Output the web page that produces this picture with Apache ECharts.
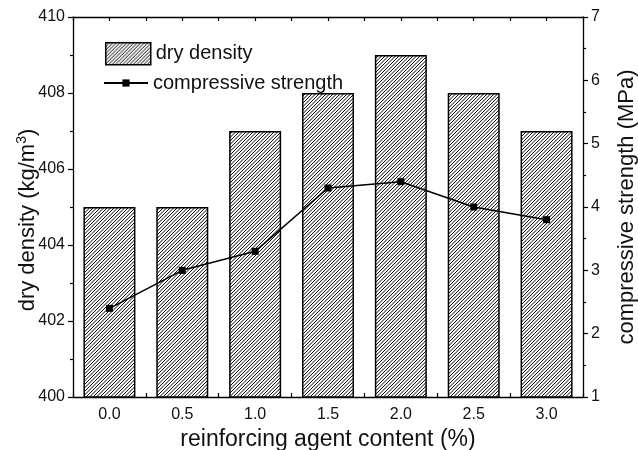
<!DOCTYPE html>
<html><head><meta charset="utf-8">
<script src="https://cdn.jsdelivr.net/npm/echarts@6/dist/echarts.min.js"></script>
<style>html,body{margin:0;padding:0;background:#fff}#c{width:638px;height:450px}</style>
</head><body><div id="c"></div>
<script>
const categories = ['0.0','0.5','1.0','1.5','2.0','2.5','3.0'];
const dryDensity = [405,405,407,408,409,408,407];
const compressiveStrength = [2.4,3.0,3.3,4.3,4.4,4.0,3.8];
const leftTicks = {min:400,max:410,interval:2};
const rightTicks = {min:1,max:7,interval:1};

function hatch(){
  const s = 7;
  const c = document.createElement('canvas');
  c.width = s; c.height = s;
  const g = c.getContext('2d');
  g.fillStyle = '#fff'; g.fillRect(0,0,s,s);
  g.strokeStyle = '#000'; g.lineWidth = 1.0;
  g.beginPath();
  for (let k = -2; k <= 2; k++) {
    const o = k * 3.5;
    g.moveTo(o - 1, s + 1); g.lineTo(o + s + 1, -1);
  }
  g.stroke();
  return c;
}
const pattern = {image: hatch(), repeat: 'repeat'};
const F = 'Liberation Sans, Arial, sans-serif';
const TC = '#111';
const lab = {fontFamily:F, fontSize:16, color:TC};
const line = {show:true, lineStyle:{color:'#000', width:1.3}};
const tick = {color:'#000', width:1.2};

const chart = echarts.init(document.getElementById('c'));
chart.setOption({
  animation:false,
  grid:{left:73,right:55,top:17,bottom:53, containLabel:false, outerBoundsMode:'none'},
  legend:[
    {orient:'vertical', left:100, top:37, itemWidth:45, itemHeight:22,
     textStyle:{fontFamily:F, fontSize:20, color:TC},
     data:[{name:'dry density', icon:'rect', itemStyle:{color:pattern, borderColor:'#000', borderWidth:1.5}}]},
    {orient:'vertical', left:98, top:68, itemWidth:44, itemHeight:9,
     textStyle:{fontFamily:F, fontSize:20, color:TC},
     data:[{name:'compressive strength'}]}
  ],
  xAxis:[
    {type:'category', data:categories, position:'bottom',
     axisLine:line, axisTick:{show:true, inside:true, length:4, lineStyle:tick},
     axisLabel:Object.assign({margin:10}, lab),
     name:'reinforcing agent content (%)', nameLocation:'middle', nameGap:29,
     nameTextStyle:{fontFamily:F, fontSize:23, color:TC}},
    {type:'category', data:categories, position:'top',
     axisLine:line, axisTick:{show:true, inside:true, length:4, lineStyle:tick},
     axisLabel:{show:false}},
    {type:'category', data:categories, position:'top',
     axisLine:{show:false}, axisTick:{show:true, inside:true, alignWithLabel:true, length:4, lineStyle:tick},
     axisLabel:{show:false}},
    {type:'category', data:categories, position:'bottom',
     axisLine:{show:false}, axisTick:{show:true, inside:true, alignWithLabel:true, length:4, lineStyle:tick},
     axisLabel:{show:false}}
  ],
  yAxis:[
    {type:'value', position:'left', min:leftTicks.min, max:leftTicks.max, interval:leftTicks.interval,
     axisLine:line, axisTick:{show:true, length:5, lineStyle:tick},
     minorTick:{show:true, splitNumber:2, length:3, lineStyle:tick},
     splitLine:{show:false},
     axisLabel:Object.assign({margin:8}, lab),
     name:'dry density (kg/m{sup|3})', nameLocation:'middle', nameGap:32, nameRotate:90,
     nameMoveOverlap:false,
     nameTextStyle:{fontFamily:F, fontSize:22, color:TC, padding:[0,26,0,0],
       rich:{sup:{fontFamily:F, fontSize:14, color:TC, verticalAlign:'top', padding:[0,0,12,0]}}}},
    {type:'value', position:'right', min:rightTicks.min, max:rightTicks.max, interval:rightTicks.interval,
     axisLine:line, axisTick:{show:true, length:5, lineStyle:tick},
     minorTick:{show:true, splitNumber:2, length:3, lineStyle:tick},
     splitLine:{show:false},
     axisLabel:Object.assign({margin:8}, lab),
     name:'compressive strength (MPa)', nameLocation:'middle', nameGap:33, nameRotate:90,
     nameTextStyle:{fontFamily:F, fontSize:22, color:TC}}
  ],
  series:[
    {name:'dry density', type:'bar', xAxisIndex:0, yAxisIndex:0, data:dryDensity, barWidth:52,
     itemStyle:{color:pattern, borderColor:'#000', borderWidth:1.5}},
    {name:'compressive strength', type:'line', xAxisIndex:0, yAxisIndex:1, data:compressiveStrength,
     symbol:'rect', symbolSize:7, lineStyle:{color:'#000', width:1.5},
     itemStyle:{color:'#000'}}
  ]
});
</script></body></html>
